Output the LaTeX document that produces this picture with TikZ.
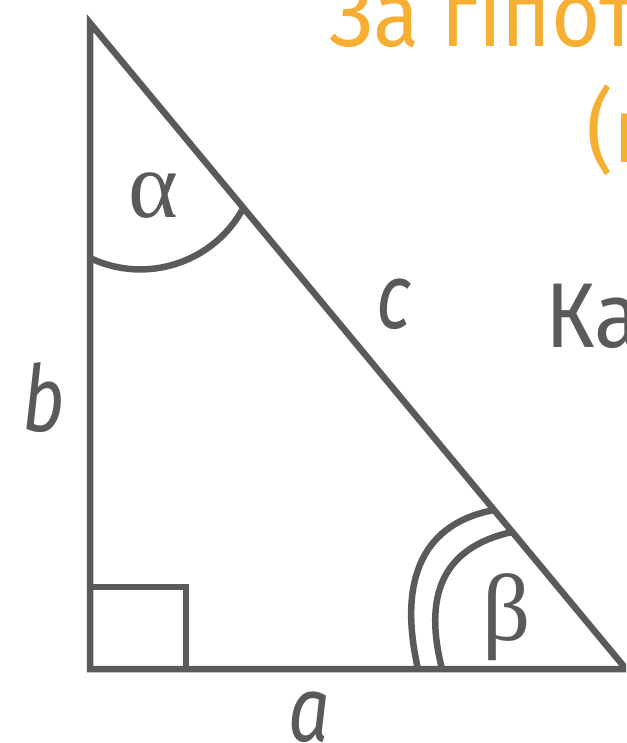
\documentclass[tikz,border=0pt]{standalone}
\usepackage{fontspec}
\setmainfont[FakeStretch=0.92]{Fira Sans}
\newfontfamily\legfont[FakeStretch=0.8]{Fira Sans}
\newfontfamily\greekfont{Liberation Serif}
\usetikzlibrary{calc}
\definecolor{sidegray}{HTML}{5A5A5A}
\definecolor{titleorange}{HTML}{F6AF32}

\begin{document}
\begin{tikzpicture}[
  x=1pt,y=-1pt,
  side/.style={draw=sidegray,line width=6.5pt},
  title/.style={text=titleorange,font=\fontsize{92}{110}\selectfont,inner sep=0pt,anchor=base west},
  legtext/.style={text=sidegray,font=\legfont\fontsize{92}{110}\selectfont\itshape,inner sep=0pt,anchor=base},
  angletext/.style={text=sidegray,font=\greekfont\fontsize{95}{110}\selectfont,inner sep=0pt,anchor=base}
]
\useasboundingbox (0,0) rectangle (626,743);
\clip (0,0) rectangle (626,743);
% triangle
\coordinate (top) at (90,23);
\coordinate (corner) at (90,669);
\coordinate (right) at (626,669);
\draw[side] (top) -- (corner) -- (right) -- cycle;
\draw[side] ($(corner)+(0,-82)$) -| ($(corner)+(96,0)$);
% angle marks
\coordinate (alphastart) at (90,258);
\draw[side] (alphastart) arc[start angle=115.5,end angle=27.7,radius=117];
\coordinate (betaout) at (418,669);
\coordinate (betain) at (442,669);
\draw[side] (betaout) .. controls (400,590) and (415,525) .. (494,510);
\draw[side] (betain) .. controls (424,598) and (440,548) .. (512,532);
% labels
\node[angletext] (alpha) at (153,218) {α};
\node[angletext] (beta) at (507,640) {β};
\node[legtext] (legb) at (44,431) {b};
\node[legtext] (hypc) at (394,328) {c};
\node[legtext] (lega) at (309,741) {a};
% text on the right
\node[title] (line1) at (329,47) {За гіпот};
\node[title] (line2) at (586,163) {(п};
\node[title,text=sidegray] (line3) at (545,347) {Ка};
\end{tikzpicture}
\end{document}
